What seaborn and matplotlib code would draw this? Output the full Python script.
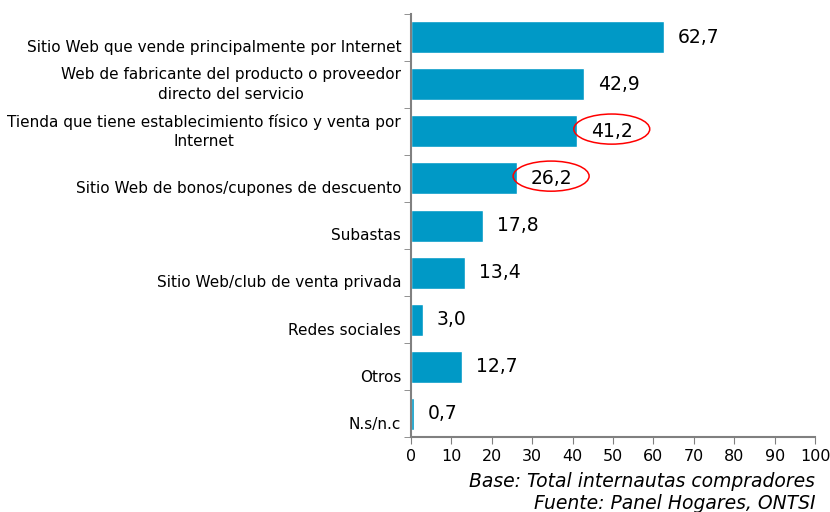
import pandas as pd
import seaborn as sns
import matplotlib.pyplot as plt
from matplotlib.patches import Ellipse

categories = [
    "Sitio Web que vende principalmente por Internet",
    "Web de fabricante del producto o proveedor\ndirecto del servicio",
    "Tienda que tiene establecimiento físico y venta por\nInternet",
    "Sitio Web de bonos/cupones de descuento",
    "Subastas",
    "Sitio Web/club de venta privada",
    "Redes sociales",
    "Otros",
    "N.s/n.c",
]
values = [62.7, 42.9, 41.2, 26.2, 17.8, 13.4, 3.0, 12.7, 0.7]
highlighted = [2, 3]  # circled values
x_ticks = list(range(0, 101, 10))

sns.set_style("white")
plt.rcParams["font.family"] = ["DejaVu Sans"]
plt.rcParams["text.color"] = "black"
plt.rcParams["xtick.labelcolor"] = "black"
plt.rcParams["ytick.labelcolor"] = "black"

df = pd.DataFrame({"canal": categories, "pct": values})

fig = plt.figure(figsize=(8.3, 5.12), dpi=100)
ax = fig.add_axes([0.495, 0.146, 0.487, 0.827])

sns.barplot(data=df, x="pct", y="canal", color="#0099C6", width=0.68,
            saturation=1, ax=ax)

ax.set_xlim(0, 100)
ax.set_ylim(len(categories) - 0.5, -0.5)
ax.set_xticks(x_ticks)
ax.set_xlabel("")
ax.set_ylabel("")
ax.tick_params(axis="x", labelsize=11.5, length=5, color="#808080",
               direction="out", bottom=True)

# category labels sit low in each band, ticks mark the band edges
ax.set_yticks([i + 0.38 for i in range(len(categories))])
ax.set_yticklabels(categories, fontsize=11, ha="right", va="bottom",
                   multialignment="center", linespacing=1.4)
ax.tick_params(axis="y", which="major", length=0, pad=7)
ax.set_yticks([i - 0.5 for i in range(len(categories) + 1)], minor=True)
ax.tick_params(axis="y", which="minor", length=5, color="#808080",
               direction="out", left=True)

for side in ["top", "right"]:
    ax.spines[side].set_visible(False)
for side in ["left", "bottom"]:
    ax.spines[side].set_color("#808080")
    ax.spines[side].set_linewidth(1.5)

for i, v in enumerate(values):
    ax.text(v + 3.4, i, f"{v:.1f}".replace(".", ","), fontsize=13.5,
            va="center", ha="left", color="black")

for i in highlighted:
    ax.add_patch(Ellipse((values[i] + 8.5, i - 0.05), 18.8, 0.64,
                         fill=False, edgecolor="red", linewidth=1.1,
                         clip_on=False))

fig.text(0.982, 0.06, "Base: Total internautas compradores", fontsize=13.5,
         style="italic", ha="right", va="center", color="black")
fig.text(0.982, 0.017, "Fuente: Panel Hogares, ONTSI", fontsize=13.5,
         style="italic", ha="right", va="center", color="black")

fig.savefig("out.png", dpi=100)
